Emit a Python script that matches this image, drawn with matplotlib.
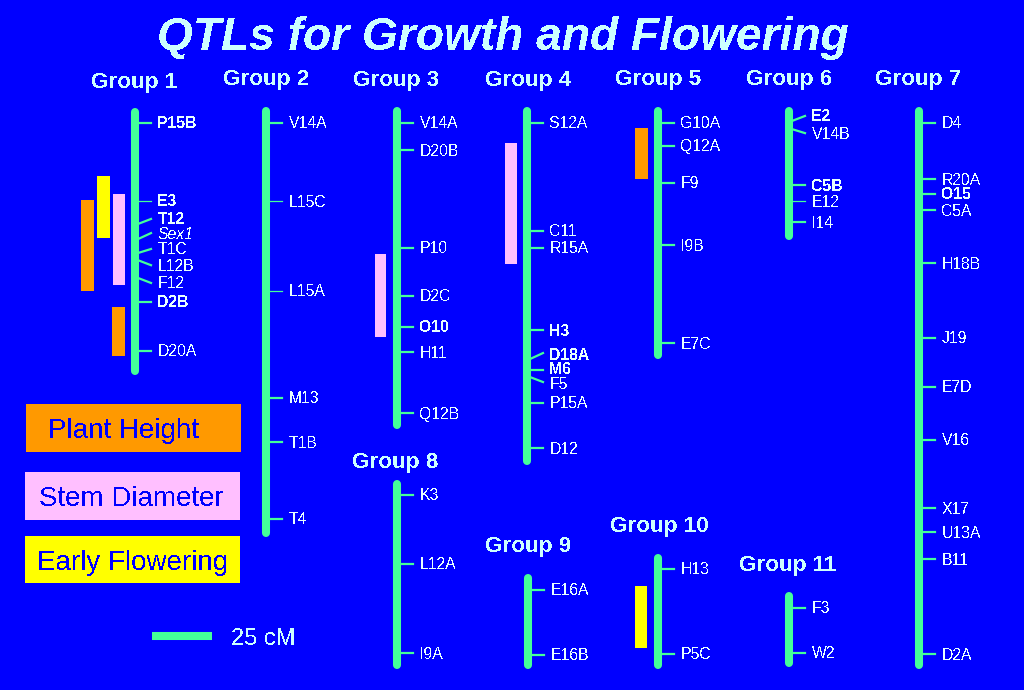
import matplotlib
matplotlib.use('Agg')
import matplotlib.pyplot as plt

plt.rcParams['font.family'] = ['Liberation Sans', 'DejaVu Sans']
plt.rcParams['text.antialiased'] = False

# Linkage groups: marker names and map positions (cM from top of each group)
g1_names = ['P15B', 'E3', 'T12', 'Sex1', 'T1C', 'L12B', 'F12', 'D2B', 'D20A']
g1_cm = [5.8, 38.3, 47.9, 54.2, 60.0, 63.0, 70.4, 80.4, 100.8]
g2_names = ['V14A', 'L15C', 'L15A', 'M13', 'T1B', 'T4']
g2_cm = [6.2, 38.8, 76.2, 120.8, 139.2, 171.2]
g3_names = ['V14A', 'D20B', 'P10', 'D2C', 'O10', 'H11', 'Q12B']
g3_cm = [6.2, 17.5, 58.3, 78.3, 91.2, 101.7, 127.1]
g4_names = ['S12A', 'C11', 'R15A', 'H3', 'D18A', 'M6', 'F5', 'P15A', 'D12']
g4_cm = [6.2, 51.2, 58.3, 92.5, 104.6, 109.0, 112.1, 122.9, 141.7]
g5_names = ['G10A', 'Q12A', 'F9', 'I9B', 'E7C']
g5_cm = [6.2, 15.8, 31.2, 57.1, 98.0]
g6_names = ['E2', 'V14B', 'C5B', 'E12', 'I14']
g6_cm = [5.4, 8.8, 32.1, 38.8, 47.5]
g7_names = ['D4', 'R20A', 'O15', 'C5A', 'H18B', 'J19', 'E7D', 'V16', 'X17', 'U13A', 'B11', 'D2A']
g7_cm = [6.2, 29.6, 35.8, 42.5, 64.6, 95.8, 116.2, 138.3, 166.7, 176.7, 188.0, 227.5]
g8_names = ['K3', 'L12A', 'I9A']
g8_cm = [5.8, 34.5, 71.7]
g9_names = ['E16A', 'E16B']
g9_cm = [6.2, 33.3]
g10_names = ['H13', 'P5C']
g10_cm = [5.8, 41.2]
g11_names = ['F3', 'W2']
g11_cm = [6.2, 25.0]

group_lengths = [110.4, 178.3, 133.3, 148.3, 104.2, 54.6, 233.3, 77.9, 38.8, 47.1, 30.4]

# QTL intervals: group number, start cM, end cM, trait
qtl_group = [1, 1, 1, 1, 3, 4, 5, 10]
qtl_start = [37.9, 27.9, 35.4, 82.5, 60.8, 14.6, 8.3, 12.9]
qtl_end = [75.8, 53.8, 73.3, 102.9, 95.4, 65.0, 29.6, 38.8]
qtl_trait = ['Plant Height', 'Early Flowering', 'Stem Diameter', 'Plant Height',
             'Stem Diameter', 'Stem Diameter', 'Plant Height', 'Early Flowering']

legend_labels = ['Plant Height', 'Stem Diameter', 'Early Flowering']
scale_cm = 25

# layout, everything in image pixels
PX_PER_CM = 2.4
BLUE = '#0000ff'
GREEN = '#44ff99'
TEXT = '#e8ffff'
HEAD = '#ccffff'
colors = {'Plant Height': '#ff9900', 'Stem Diameter': '#ffbfff', 'Early Flowering': '#ffff00'}

group_x = [135, 266, 397, 527, 658, 789, 919, 397, 528, 658, 789]
group_top = [109, 108, 108, 108, 108, 108, 108, 481, 575, 555, 593]
head_x = [134, 266, 396, 528, 658, 789, 918, 395, 528, 659, 788]
head_y = [81, 78, 79, 79, 78, 78, 78, 461, 545, 525, 564]

# left edge and width of each QTL box
qtl_x = [81, 97, 113, 112, 375, 505, 635, 635]
qtl_w = [13, 13, 12, 13, 11, 12, 13, 12]

# markers drawn on a slant: label moved up or down from the bar position
slant = {(1, 'T12'): -5, (1, 'Sex1'): -6, (1, 'T1C'): -4, (1, 'L12B'): 5, (1, 'F12'): 5,
         (4, 'D18A'): -6, (4, 'F5'): 5, (6, 'E2'): -5, (6, 'V14B'): 4}
thin = [(1, 'E3'), (2, 'L15C'), (2, 'L15A'), (6, 'E12')]
heavy = [(1, 'P15B'), (1, 'E3'), (1, 'T12'), (1, 'D2B'), (4, 'H3'), (4, 'D18A'), (4, 'M6'),
         (6, 'E2'), (6, 'C5B'), (7, 'O15'), (3, 'O10')]
# crowded labels, pulled apart a little
nudge = {(4, 'M6'): -1.5, (4, 'F5'): 1, (4, 'D18A'): 1.5}

all_names = [g1_names, g2_names, g3_names, g4_names, g5_names, g6_names,
             g7_names, g8_names, g9_names, g10_names, g11_names]
all_cm = [g1_cm, g2_cm, g3_cm, g4_cm, g5_cm, g6_cm, g7_cm, g8_cm, g9_cm, g10_cm, g11_cm]

fig = plt.figure(figsize=(10.24, 6.9), dpi=100, facecolor=BLUE)
ax = fig.add_axes([0, 0, 1, 1])
ax.set_xlim(0, 1024)
ax.set_ylim(690, 0)
ax.axis('off')

ax.text(503, 38, 'QTLs for Growth and Flowering', color=HEAD, fontsize=33.2,
        fontweight='bold', fontstyle='italic', ha='center', va='center')

for i in range(11):
    x = group_x[i]
    top = group_top[i]
    bottom = top + group_lengths[i] * PX_PER_CM
    ax.plot([x, x], [top + 3, bottom - 3], color=GREEN, lw=5.8, solid_capstyle='round', zorder=3)
    ax.text(head_x[i], head_y[i] + 1.5, 'Group %d' % (i + 1), color=HEAD, fontsize=16.2,
            fontweight='bold', ha='center', va='center')

    for name, cm in zip(all_names[i], all_cm[i]):
        y = top + cm * PX_PER_CM
        shift = slant.get((i + 1, name), 0)
        lw = 0.9 if (i + 1, name) in thin else 1.6
        ax.plot([x + 3, x + 16], [y, y + shift], color=GREEN, lw=lw, zorder=2)
        style = 'italic' if name == 'Sex1' else 'normal'
        weight = 'bold' if (i + 1, name) in heavy else 'normal'
        label_y = y + shift + 1 + nudge.get((i + 1, name), 0)
        ax.text(x + 22.5, label_y, name, color=TEXT, fontsize=11.3, fontstyle=style,
                fontweight=weight, ha='left', va='center')

for i in range(len(qtl_group)):
    g = qtl_group[i] - 1
    y0 = group_top[g] + qtl_start[i] * PX_PER_CM
    y1 = group_top[g] + qtl_end[i] * PX_PER_CM
    ax.bar(qtl_x[i], y1 - y0, width=qtl_w[i], bottom=y0, align='edge',
           color=colors[qtl_trait[i]], linewidth=0)

# legend boxes
box_x = [26, 25, 25]
box_top = [404, 472, 536]
box_h = [48, 48, 47]
text_x = [48, 39, 37]
for i, name in enumerate(legend_labels):
    ax.bar(box_x[i], box_h[i], width=215, bottom=box_top[i], align='edge',
           color=colors[name], linewidth=0)
    ax.text(text_x[i], box_top[i] + box_h[i] / 2 + 3, name, color=BLUE, fontsize=20,
            ha='left', va='center')

# scale bar
ax.plot([152, 152 + scale_cm * PX_PER_CM], [636, 636], color=GREEN, lw=5.8, solid_capstyle='butt')
ax.text(231, 639, '%d cM' % scale_cm, color=HEAD, fontsize=17, ha='left', va='center')

fig.savefig('out.png', dpi=100, facecolor=BLUE)
